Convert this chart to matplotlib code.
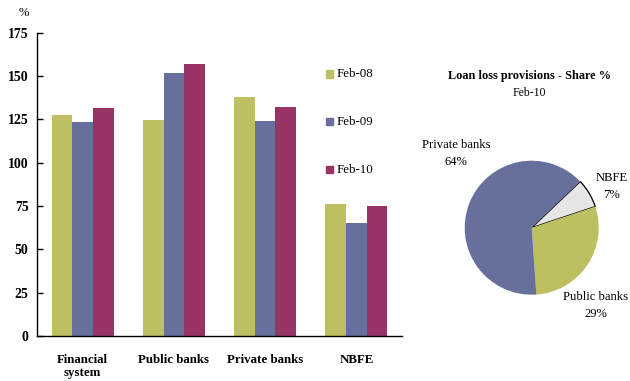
import matplotlib
matplotlib.use("Agg")
import matplotlib.pyplot as plt
import numpy as np

# Provision coverage by segment (%)
categories = ["Financial\nsystem", "Public banks", "Private banks", "NBFE"]
series_names = ["Feb-08", "Feb-09", "Feb-10"]
feb08 = [127.5, 124.6, 137.9, 76.2]
feb09 = [123.5, 151.8, 124.1, 65.2]
feb10 = [131.6, 157.0, 132.1, 75.0]
y_ticks = [0, 25, 50, 75, 100, 125, 150, 175]

# Share of loan loss provisions, Feb-10 (%)
pie_labels = ["NBFE", "Public banks", "Private banks"]
pie_shares = [7, 29, 64]

colors = ["#BDBF60", "#67709C", "#993366"]
pie_colors = ["#E6E6E6", "#BDBF60", "#67709C"]

plt.rcParams["font.family"] = ["Liberation Serif", "DejaVu Serif"]

fig = plt.figure(figsize=(6.3, 3.81), dpi=100)

# ---- bar chart ----
ax = fig.add_axes([37 / 630, 45 / 381, 365 / 630, 303.3 / 381])
x = np.arange(len(categories))
width = 0.227
for i, (vals, name) in enumerate(zip([feb08, feb09, feb10], series_names)):
    ax.bar(x + (i - 1) * width, vals, width, color=colors[i], label=name)

ax.set_xlim(-0.5, len(categories) - 0.5)
ax.set_ylim(0, 175)
ax.set_yticks(y_ticks)
ax.set_yticklabels([str(t) for t in y_ticks], fontsize=10, fontweight="bold")
ax.set_xticks(x)
ax.set_xticklabels(categories, fontsize=9.3, fontweight="bold", linespacing=1.15)
ax.tick_params(axis="y", direction="in", length=4, width=1, pad=6)
ax.tick_params(axis="x", length=0, pad=13)
for s in ["top", "right"]:
    ax.spines[s].set_visible(False)
ax.spines["left"].set_linewidth(1.0)
ax.spines["bottom"].set_linewidth(1.0)

fig.text(24 / 630, 1 - 13 / 381, "%", fontsize=9, ha="center", va="center")

# legend entries stacked vertically
leg_y = [74, 122, 170]
for name, c, yy in zip(series_names, colors, leg_y):
    fig.patches.append(plt.Rectangle((326 / 630, 1 - (yy + 3.5) / 381), 7 / 630, 7 / 381,
                                     transform=fig.transFigure, color=c))
    fig.text(337 / 630, 1 - yy / 381, name, fontsize=9.3, va="center", ha="left")

# ---- pie chart ----
cx, cy, r = 531.7, 227.7, 67
box = 150
pax = fig.add_axes([(cx - box / 2) / 630, (381 - cy - box / 2) / 381, box / 630, box / 381])
wedges, _ = pax.pie(pie_shares, colors=pie_colors, startangle=43.6, counterclock=False,
                    radius=r, center=(0, 0))
wedges[0].set_edgecolor("black")
wedges[0].set_linewidth(0.9)
pax.set_xlim(-box / 2, box / 2)
pax.set_ylim(-box / 2, box / 2)
pax.set_aspect("equal")
pax.axis("off")

fig.text(529 / 630, 1 - 76 / 381, "Loan loss provisions - Share %", fontsize=8.8,
         fontweight="bold", ha="center", va="center")
fig.text(529 / 630, 1 - 93 / 381, "Feb-10", fontsize=8.5, ha="center", va="center")

label_pos = {"NBFE": (612, 178), "Public banks": (596, 297), "Private banks": (456, 145)}
for name, share in zip(pie_labels, pie_shares):
    lx, ly = label_pos[name]
    fig.text(lx / 630, 1 - ly / 381, name, fontsize=9.1, ha="center", va="center")
    fig.text(lx / 630, 1 - (ly + 17) / 381, f"{share}%", fontsize=9.1, ha="center", va="center")

fig.savefig("out.png", dpi=100)
